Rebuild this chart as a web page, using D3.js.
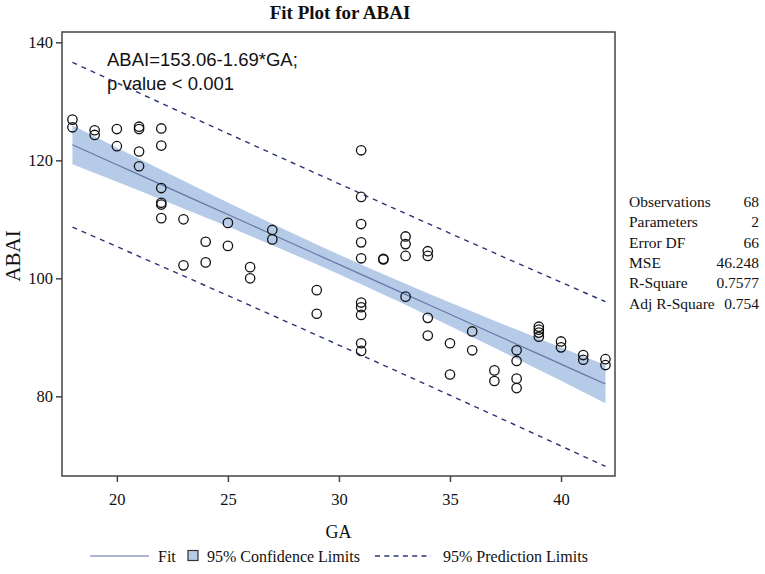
<!DOCTYPE html>
<html>
<head>
<meta charset="utf-8">
<script src="https://cdn.jsdelivr.net/npm/d3@7"></script>
<style>
  body { margin: 0; background: #fff; }
  svg text { fill: #111; }
</style>
</head>
<body>
<div id="chart"></div>
<script>
const ga = [18, 18, 19, 19, 20, 20, 21, 21, 21, 21,
            22, 22, 22, 22, 22, 22, 23, 23, 24, 24,
            25, 25, 26, 26, 27, 27, 29, 29,
            31, 31, 31, 31, 31, 31, 31, 31, 31, 31,
            32, 32, 33, 33, 33, 33, 34, 34, 34, 34,
            35, 35, 36, 36, 37, 37, 38, 38, 38, 38,
            39, 39, 39, 39, 40, 40, 41, 41, 42, 42];
const abai = [126.9, 125.6, 125.1, 124.3, 125.3, 122.4, 125.7, 125.3, 121.5, 119.0,
              125.4, 122.5, 115.3, 112.8, 112.5, 110.2, 110.0, 102.2, 106.2, 102.7,
              109.4, 105.5, 101.9, 100.0, 108.2, 106.6, 98.0, 94.0,
              121.7, 113.8, 109.2, 106.1, 103.4, 95.9, 95.1, 93.8, 89.0, 87.7,
              103.3, 103.2, 107.1, 105.8, 103.8, 96.9, 104.6, 103.8, 93.3, 90.3,
              89.0, 83.7, 91.0, 87.8, 84.4, 82.6, 87.8, 86.0, 83.0, 81.4,
              91.8, 91.3, 90.8, 90.1, 89.3, 88.3, 87.0, 86.2, 86.3, 85.3];

// fit shown in the plot
const intercept = 153.06;
const slope = -1.69;
const mse = 46.248;
const tCrit = 1.9966; // t(0.975, 66)

const statLabels = ["Observations", "Parameters", "Error DF", "MSE", "R-Square", "Adj R-Square"];
const statValues = ["68", "2", "66", "46.248", "0.7577", "0.754"];

const xTicks = [20, 25, 30, 35, 40];
const yTicks = [80, 100, 120, 140];

const width = 765, height = 574;
const margin = {top: 32, right: 150, bottom: 98, left: 62};
const plotW = width - margin.left - margin.right;
const plotH = height - margin.top - margin.bottom;

const serif = "'Liberation Serif', 'Times New Roman', serif";
const sans = "'Liberation Sans', Arial, sans-serif";

const svg = d3.select("#chart")
  .append("svg")
  .attr("width", width)
  .attr("height", height);

const g = svg.append("g")
  .attr("transform", `translate(${margin.left},${margin.top})`);

const x = d3.scaleLinear().domain([17.53, 42.43]).range([0, plotW]);
const y = d3.scaleLinear().domain([66.5, 141.75]).range([plotH, 0]);

// confidence and prediction limits from the fit
const n = ga.length;
const xbar = d3.mean(ga);
const sxx = d3.sum(ga, v => (v - xbar) * (v - xbar));
const levels = Array.from(new Set(ga)).sort((a, b) => a - b);
const band = levels.map(v => {
  const fit = intercept + slope * v;
  const h = (v - xbar) * (v - xbar) / sxx;
  const ci = tCrit * Math.sqrt(mse * (1 / n + h));
  const pi = tCrit * Math.sqrt(mse * (1 + 1 / n + h));
  return {ga: v, fit: fit, lcl: fit - ci, ucl: fit + ci, lpl: fit - pi, upl: fit + pi};
});

g.append("path")
  .datum(band)
  .attr("fill", "#b5cbe8")
  .attr("d", d3.area().x(d => x(d.ga)).y0(d => y(d.lcl)).y1(d => y(d.ucl)));

g.append("path")
  .datum(band)
  .attr("fill", "none")
  .attr("stroke", "#6677a8")
  .attr("stroke-width", 1.2)
  .attr("d", d3.line().x(d => x(d.ga)).y(d => y(d.fit)));

["lpl", "upl"].forEach(k => {
  g.append("path")
    .datum(band)
    .attr("fill", "none")
    .attr("stroke", "#2d3373")
    .attr("stroke-width", 1.4)
    .attr("stroke-dasharray", "5,5")
    .attr("d", d3.line().x(d => x(d.ga)).y(d => y(d[k])));
});

// points
g.selectAll(".pt")
  .data(d3.zip(ga, abai))
  .enter()
  .append("circle")
  .attr("class", "pt")
  .attr("cx", d => x(d[0]))
  .attr("cy", d => y(d[1]))
  .attr("r", 4.7)
  .attr("fill", "none")
  .attr("stroke", "#111")
  .attr("stroke-width", 1.3);

// frame
g.append("rect")
  .attr("width", plotW)
  .attr("height", plotH)
  .attr("fill", "none")
  .attr("stroke", "#444")
  .attr("stroke-width", 1.5);

// axes
const xAxis = g.append("g")
  .attr("transform", `translate(0,${plotH})`)
  .call(d3.axisBottom(x).tickValues(xTicks).tickSize(6).tickPadding(11));
const yAxis = g.append("g")
  .call(d3.axisLeft(y).tickValues(yTicks).tickSize(6).tickPadding(3));
[xAxis, yAxis].forEach(a => {
  a.select(".domain").remove();
  a.selectAll(".tick line").attr("stroke", "#444").attr("stroke-width", 1.5);
  a.selectAll(".tick text").attr("font-family", serif).attr("font-size", 16.5).attr("fill", "#222");
});

// titles
svg.append("text")
  .attr("x", 340).attr("y", 19)
  .attr("text-anchor", "middle")
  .attr("font-family", serif)
  .attr("font-weight", "bold")
  .attr("font-size", 19)
  .text("Fit Plot for ABAI");

svg.append("text")
  .attr("x", margin.left + plotW / 2).attr("y", 538)
  .attr("text-anchor", "middle")
  .attr("font-family", serif)
  .attr("font-size", 18)
  .text("GA");

svg.append("text")
  .attr("transform", "translate(20,256) rotate(-90)")
  .attr("text-anchor", "middle")
  .attr("font-family", serif)
  .attr("font-size", 21)
  .text("ABAI");

// equation note
const note = g.append("text")
  .attr("font-family", sans)
  .attr("font-size", 18.5)
  .attr("fill", "#111");
note.append("tspan").attr("x", 45).attr("y", 34).text(`ABAI=${intercept}-${Math.abs(slope)}*GA;`);
note.append("tspan").attr("x", 45).attr("y", 58).text("p value < 0.001");

// fit statistics
const stats = svg.append("g").attr("font-family", serif).attr("font-size", 15.5);
statLabels.forEach((lab, i) => {
  stats.append("text").attr("x", 629).attr("y", 207 + i * 20.3).text(lab);
  stats.append("text").attr("x", 759).attr("y", 207 + i * 20.3)
    .attr("text-anchor", "end").text(statValues[i]);
});

// legend
const leg = svg.append("g").attr("font-family", serif).attr("font-size", 16);
const ly = 556;
leg.append("line").attr("x1", 90).attr("x2", 149).attr("y1", ly).attr("y2", ly)
  .attr("stroke", "#8d9cc4").attr("stroke-width", 1.3);
leg.append("text").attr("x", 158).attr("y", ly + 5.5).text("Fit");
leg.append("rect").attr("x", 188).attr("y", ly - 5.5).attr("width", 10).attr("height", 10)
  .attr("fill", "#b5cbe8").attr("stroke", "#333").attr("stroke-width", 1.2);
leg.append("text").attr("x", 207).attr("y", ly + 5.5).text("95% Confidence Limits");
leg.append("line").attr("x1", 375).attr("x2", 431).attr("y1", ly).attr("y2", ly)
  .attr("stroke", "#2d3373").attr("stroke-width", 1.4).attr("stroke-dasharray", "5,4.3");
leg.append("text").attr("x", 443).attr("y", ly + 5.5).text("95% Prediction Limits");
</script>
</body>
</html>
